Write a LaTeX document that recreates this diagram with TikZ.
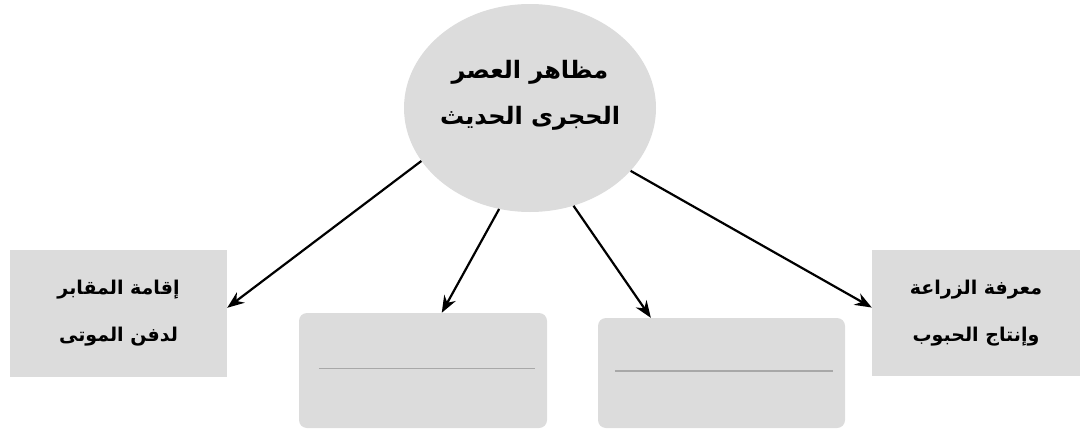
\documentclass[tikz,border=0pt]{standalone}
\usepackage{fontspec}
\newfontfamily\arabicfont[Script=Arabic]{DejaVu Sans}
\TeXXeTstate=1
\usetikzlibrary{arrows.meta}
\usetikzlibrary{shapes.geometric}
\definecolor{boxgray}{HTML}{DCDCDC}
\definecolor{linegray}{HTML}{A8A8A8}
\tikzstyle{topic}=[ellipse,fill=boxgray,minimum width=252pt,minimum height=208pt,inner sep=0pt]
\tikzstyle{artext}=[font=\arabicfont\bfseries\fontsize{19}{47}\selectfont,align=center]
\tikzstyle{bigtext}=[font=\arabicfont\bfseries\fontsize{24}{46}\selectfont,align=center]
\tikzstyle{card}=[fill=boxgray,inner sep=0pt]
\tikzstyle{blankcard}=[card,rounded corners=8pt]
\tikzstyle{fillline}=[draw=linegray,line width=1.5pt]
\tikzstyle{arr}=[->,>={Stealth[length=17pt,width=13pt]},draw=black,line width=2.2pt]
\begin{document}
\begin{tikzpicture}[x=1pt,y=-1pt]
  \useasboundingbox (0,0) rectangle (1082,431);
  \node[topic] (topic) at (530,108) {};
  \node[bigtext] (topiclabel) at (530,95) {\beginR مظاهر العصر\endR\\\beginR الحجرى الحديث\endR};
  \node[card,artext,minimum width=217pt,minimum height=127pt] (cardL) at (118.5,313.5) {\beginR إقامة المقابر\endR\\\beginR لدفن الموتى\endR};
  \node[card,artext,minimum width=208pt,minimum height=126pt] (cardR) at (976,313) {\beginR معرفة الزراعة\endR\\\beginR وإنتاج الحبوب\endR};
  \node[blankcard,minimum width=248pt,minimum height=115pt] (cardML) at (423,370.5) {};
  \node[blankcard,minimum width=247pt,minimum height=110pt] (cardMR) at (721.5,373) {};
  \draw[fillline] ([xshift=20pt,yshift=2pt]cardML.west) -- ([xshift=-12pt,yshift=2pt]cardML.east);
  \draw[fillline] ([xshift=17pt,yshift=2pt]cardMR.west) -- ([xshift=-12pt,yshift=2pt]cardMR.east);
  \draw[arr] (topic.206) -- (cardL.3);
  \draw[arr] (topic.253) -- (cardML.72);
  \draw[arr] (topic.294) -- (cardMR.142);
  \draw[arr] (topic.328) -- (cardR.177);
\end{tikzpicture}
\end{document}
